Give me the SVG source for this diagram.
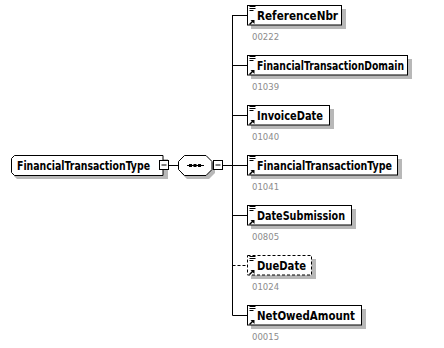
<svg xmlns="http://www.w3.org/2000/svg" width="444" height="348" viewBox="0 0 444 348">
<defs>
<style>
.bg{fill:#ffffff}
.shadow{fill:#b8b8b8}
.box{fill:#ffffff;stroke:#000000;stroke-width:1}
.dash{stroke-dasharray:3,2}
.name{font-family:"DejaVu Sans Condensed","DejaVu Sans",sans-serif;font-weight:bold;font-size:12px;fill:#000000}
.num{font-family:"DejaVu Sans","Liberation Sans",sans-serif;font-size:8.5px;fill:#8c8c8c}
.line{stroke:#000000;stroke-width:1;fill:none}
.icon{stroke:#000000;stroke-width:1;fill:none}
</style>
<g id="elicon">
<path class="icon" d="M2.5 1.5h6M2.5 3.5h6M2.5 5.5h4"/>
<path d="M2.5 19.5l4-4" stroke="#000" stroke-width="1.5" fill="none"/>
<path d="M3.5 15h4v4z" fill="#000"/>
</g>
</defs>
<rect class="bg" x="0" y="0" width="444" height="348"/>
<g id="connectors">
<line class="line" x1="169" y1="165.5" x2="178" y2="165.5"/>
<line class="line" x1="223" y1="165.5" x2="232.5" y2="165.5"/>
<line class="line" x1="232.5" y1="15" x2="232.5" y2="315.5"/>
<line class="line" x1="232.5" y1="15.5" x2="247" y2="15.5"/>
<line class="line" x1="232.5" y1="65.5" x2="247" y2="65.5"/>
<line class="line" x1="232.5" y1="115.5" x2="247" y2="115.5"/>
<line class="line" x1="232.5" y1="165.5" x2="247" y2="165.5"/>
<line class="line" x1="232.5" y1="215.5" x2="247" y2="215.5"/>
<line class="line dash" x1="232.5" y1="265.5" x2="247" y2="265.5"/>
<line class="line" x1="232.5" y1="315.5" x2="247" y2="315.5"/>
</g>
<g id="root">
<path class="shadow" d="M18 159h150v20h-151l-3-3v-14l3-3z"/>
<path class="box" d="M14.5 155.5h148.5v20h-148.5l-3-3v-14z"/>
<text class="name" x="17" y="170" textLength="133" lengthAdjust="spacingAndGlyphs">FinancialTransactionType</text>
<rect class="box" x="159.5" y="160.5" width="9" height="9"/>
<line class="line" x1="161.5" y1="165" x2="166.5" y2="165"/>
</g>
<g id="sequence">
<polygon class="shadow" points="187,159 209,159 215,165 215,173 209,179 187,179 181,173 181,165"/>
<polygon class="box" points="184.5,155.5 206,155.5 212,161.5 212,169.5 206,175.5 184.5,175.5 178.5,169.5 178.5,161.5"/>
<line class="line" x1="187" y1="165.5" x2="204" y2="165.5"/>
<rect x="189" y="164" width="3" height="3" fill="#000"/>
<rect x="193.5" y="164" width="3" height="3" fill="#000"/>
<rect x="198" y="164" width="3" height="3" fill="#000"/>
<rect class="box" x="213.5" y="160.5" width="9" height="9"/>
<line class="line" x1="215.5" y1="165" x2="220.5" y2="165"/>
</g>
<g id="ReferenceNbr">
<rect class="shadow" x="251" y="9" width="95" height="20"/>
<rect class="box" x="247.5" y="5.5" width="94" height="19.5"/>
<use href="#elicon" x="247" y="5"/>
<text class="name" x="257" y="20" textLength="81" lengthAdjust="spacingAndGlyphs">ReferenceNbr</text>
<text class="num" x="252" y="40">00222</text>
</g>
<g id="FinancialTransactionDomain">
<rect class="shadow" x="251" y="59" width="161" height="20"/>
<rect class="box" x="247.5" y="55.5" width="160" height="19.5"/>
<use href="#elicon" x="247" y="55"/>
<text class="name" x="257" y="70" textLength="147" lengthAdjust="spacingAndGlyphs">FinancialTransactionDomain</text>
<text class="num" x="252" y="90">01039</text>
</g>
<g id="InvoiceDate">
<rect class="shadow" x="251" y="109" width="83" height="20"/>
<rect class="box" x="247.5" y="105.5" width="82" height="19.5"/>
<use href="#elicon" x="247" y="105"/>
<text class="name" x="257" y="120" textLength="66" lengthAdjust="spacingAndGlyphs">InvoiceDate</text>
<text class="num" x="252" y="140">01040</text>
</g>
<g id="FinancialTransactionTypeChild">
<rect class="shadow" x="251" y="159" width="151" height="20"/>
<rect class="box" x="247.5" y="155.5" width="150" height="19.5"/>
<use href="#elicon" x="247" y="155"/>
<text class="name" x="257" y="170" textLength="135" lengthAdjust="spacingAndGlyphs">FinancialTransactionType</text>
<text class="num" x="252" y="190">01041</text>
</g>
<g id="DateSubmission">
<rect class="shadow" x="251" y="209" width="105" height="20"/>
<rect class="box" x="247.5" y="205.5" width="104" height="19.5"/>
<use href="#elicon" x="247" y="205"/>
<text class="name" x="257" y="220" textLength="88" lengthAdjust="spacingAndGlyphs">DateSubmission</text>
<text class="num" x="252" y="240">00805</text>
</g>
<g id="DueDate">
<rect class="shadow" x="251" y="259" width="65" height="20"/>
<rect class="box dash" x="247.5" y="255.5" width="64" height="19.5"/>
<use href="#elicon" x="247" y="255"/>
<text class="name" x="257" y="270" textLength="49" lengthAdjust="spacingAndGlyphs">DueDate</text>
<text class="num" x="252" y="290">01024</text>
</g>
<g id="NetOwedAmount">
<rect class="shadow" x="251" y="309" width="115" height="20"/>
<rect class="box" x="247.5" y="305.5" width="114" height="19.5"/>
<use href="#elicon" x="247" y="305"/>
<text class="name" x="257" y="320" textLength="98" lengthAdjust="spacingAndGlyphs">NetOwedAmount</text>
<text class="num" x="252" y="340">00015</text>
</g>
</svg>
